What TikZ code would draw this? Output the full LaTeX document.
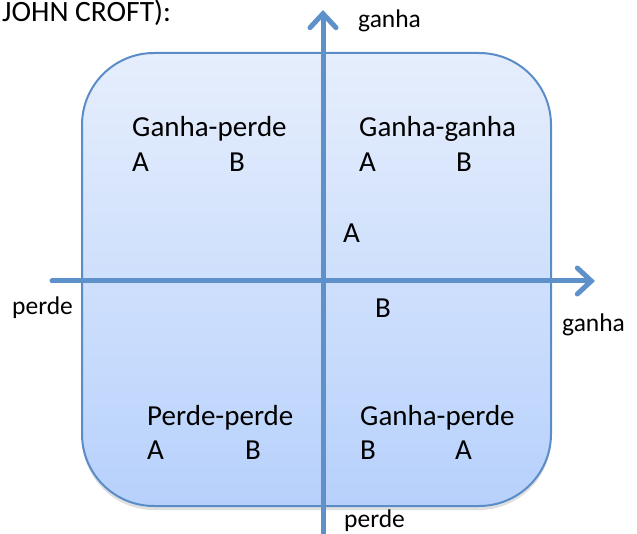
\documentclass[tikz,border=0pt]{standalone}
\usepackage{fontspec}
\setmainfont{Carlito}
\usetikzlibrary{arrows.meta,shadows}
\definecolor{axisblue}{RGB}{94,145,201}
\definecolor{boxedge}{RGB}{90,141,200}
\definecolor{boxtop}{RGB}{230,238,252}
\definecolor{boxbot}{RGB}{183,209,252}
\tikzset{
  quad/.style={anchor=base west, inner sep=0pt, font=\fontsize{29}{34}\selectfont},
  lbl/.style={anchor=base west, inner sep=0pt, font=\fontsize{25.5}{30}\selectfont},
  axis/.style={draw=axisblue, line width=5pt, line cap=round,
    -{Straight Barb[length=14pt,width=26pt,line cap=round]},
    drop shadow={opacity=0.2, shadow xshift=1pt, shadow yshift=-2pt}},
}
\begin{document}
\begin{tikzpicture}[x=1pt,y=-1pt]
\useasboundingbox (0,0) rectangle (637,534);
% title fragment
\node[anchor=base west, inner sep=0pt, font=\fontsize{29.5}{35}\selectfont] (title) at (2,22) {JOHN CROFT):};
% box
\path[draw=boxedge, line width=2pt, top color=boxtop, bottom color=boxbot,
  rounded corners=72pt, drop shadow={opacity=0.25, shadow xshift=0pt, shadow yshift=-4pt}]
  (82,53) rectangle (551,506);
% axes
\coordinate (vbot) at (323,540);
\coordinate (vtop) at (323,10);
\coordinate (hl) at (52,281);
\coordinate (hr) at (595,281);
\draw[axis] (vbot) -- (vtop);
\draw[axis] (hl) -- (hr);
% axis labels
\node[lbl] (ganhaT) at (358,28) {ganha};
\node[lbl] (ganhaR) at (562,332) {ganha};
\node[lbl] (perdeL) at (12,315) {perde};
\node[lbl] (perdeB) at (344,527) {perde};
% quadrants
\node[quad] (tlT) at (132,137) {Ganha-perde};
\node[quad] (tlA) at (132,172) {A};
\node[quad] (tlB) at (229,172) {B};
\node[quad] (trT) at (359,137) {Ganha-ganha};
\node[quad] (trA) at (359,172) {A};
\node[quad] (trB) at (456,172) {B};
\node[quad] (mA) at (343,243) {A};
\node[quad] (mB) at (375,318) {B};
\node[quad] (blT) at (147,425) {Perde-perde};
\node[quad] (blA) at (147,459) {A};
\node[quad] (blB) at (245,459) {B};
\node[quad] (brT) at (360,425) {Ganha-perde};
\node[quad] (brB) at (360,459) {B};
\node[quad] (brA) at (455,459) {A};
\end{tikzpicture}
\end{document}
